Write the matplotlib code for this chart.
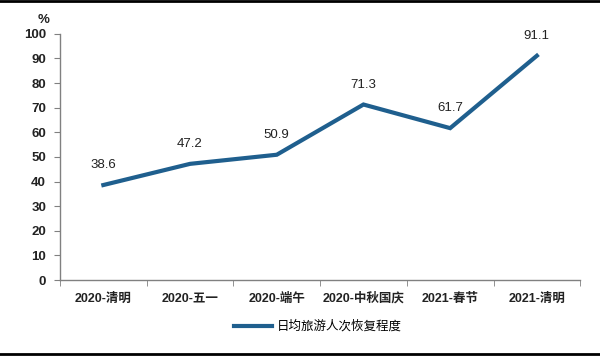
import matplotlib.pyplot as plt
from matplotlib.lines import Line2D

plt.rcParams['font.family'] = ['Liberation Sans', 'Noto Sans CJK SC', 'DejaVu Sans']

# --- Données ---
categories = ["2020-清明", "2020-五一", "2020-端午", "2020-中秋国庆", "2021-春节", "2021-清明"]
recovery = [38.6, 47.2, 50.9, 71.3, 61.7, 91.1]
series_name = "日均旅游人次恢复程度"

line_color = "#1f5f8e"
text_color = "#222222"
axis_color = "#808080"

fig = plt.figure(figsize=(6, 3.6), dpi=100)
ax = fig.add_axes([0.1, 0.222, 0.867, 0.684])

x = list(range(len(categories)))
ax.plot(x, recovery, color=line_color, linewidth=3, solid_joinstyle="miter")

for xi, v in zip(x, recovery):
    ax.annotate(f"{v:.1f}", (xi, v), xytext=(0, 10), textcoords="offset points",
                ha="center", va="bottom", fontsize=9.5, color=text_color)

ax.set_xlim(-0.5, len(categories) - 0.5)
ax.set_ylim(0, 100)
ax.set_yticks(range(0, 101, 10))
ax.set_xticks(x)
ax.set_xticklabels(categories, fontsize=9, fontweight="bold", color=text_color,
                   family=['Liberation Sans', 'Noto Sans CJK SC'])
ax.set_xticks([i - 0.5 for i in range(len(categories) + 1)], minor=True)
ax.tick_params(axis="x", which="major", length=0, pad=9)
ax.tick_params(axis="x", which="minor", length=4, color=axis_color, direction="out")
ax.tick_params(axis="y", length=4, color=axis_color, labelsize=9.5, labelcolor=text_color, pad=6)
for lab in ax.get_yticklabels():
    lab.set_fontweight("bold")

for s in ["top", "right"]:
    ax.spines[s].set_visible(False)
for s in ["left", "bottom"]:
    ax.spines[s].set_color(axis_color)
    ax.spines[s].set_linewidth(1)

fig.text(0.073, 0.935, "%", fontsize=9.5, fontweight="bold", color=text_color, ha="center")

handle = Line2D([0], [0], color=line_color, linewidth=3)
fig.legend([handle], [series_name], loc="center", bbox_to_anchor=(0.53, 0.093),
           frameon=False, prop={"family": ["Noto Sans CJK SC"], "size": 9},
           handlelength=3, handletextpad=0.4)

# cadre haut / bas
fig.add_artist(Line2D([0, 1], [0.998, 0.998], color="black", linewidth=2, transform=fig.transFigure))
fig.add_artist(Line2D([0, 1], [0.017, 0.017], color="black", linewidth=2, transform=fig.transFigure))

fig.savefig("out.png", dpi=100)
